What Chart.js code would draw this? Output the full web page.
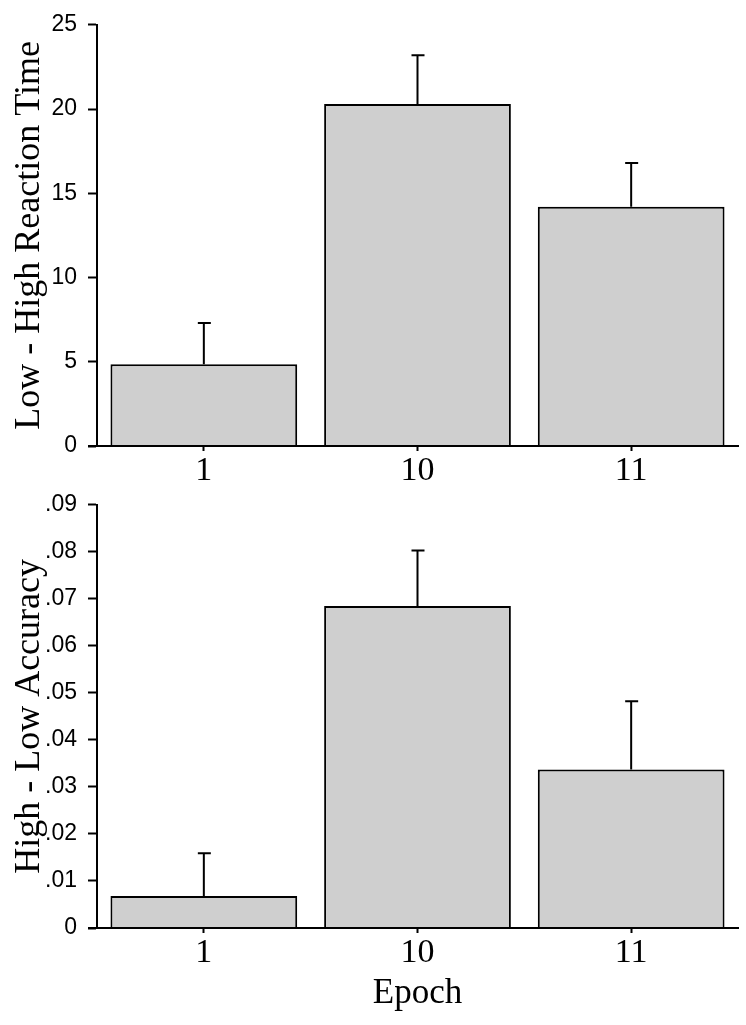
<!DOCTYPE html>
<html>
<head>
<meta charset="utf-8">
<script src="https://cdn.jsdelivr.net/npm/chart.js@4/dist/chart.umd.min.js"></script>
<style>
    body { margin: 0; background: #fff; }
    canvas { position: absolute; left: 0; }
    #rtChart { top: 0; }
    #accChart { top: 480px; }
</style>
</head>
<body>
<canvas id="rtChart" width="746" height="480"></canvas>
<canvas id="accChart" width="746" height="545"></canvas>
<script>
// Data
const epochs = ['1', '10', '11'];
const rtDiff = [4.85, 20.3, 14.2];      // Low - High reaction time
const rtSE = [2.45, 2.9, 2.6];
const accDiff = [0.0068, 0.0685, 0.0337]; // High - Low accuracy
const accSE = [0.0091, 0.0118, 0.0145];

const serif = 'Liberation Serif';
const sans = 'Liberation Sans';

// Upward-only error bars drawn from the SE arrays
const errorBars = {
    id: 'errorBars',
    afterDatasetsDraw(chart, args, opts) {
        const ctx = chart.ctx;
        const yScale = chart.scales.y;
        const meta = chart.getDatasetMeta(0);
        const values = chart.data.datasets[0].data;
        ctx.save();
        ctx.strokeStyle = '#000';
        ctx.lineWidth = 2;
        meta.data.forEach((bar, i) => {
            const yTop = yScale.getPixelForValue(values[i] + opts.err[i]);
            ctx.beginPath();
            ctx.moveTo(bar.x, bar.y);
            ctx.lineTo(bar.x, yTop);
            ctx.moveTo(bar.x - 6, yTop);
            ctx.lineTo(bar.x + 7, yTop);
            ctx.stroke();
        });
        ctx.restore();
    }
};

// x axis line runs a little past the y axis, to the tick marks
const baseLine = {
    id: 'baseLine',
    afterDraw(chart) {
        const ctx = chart.ctx;
        const area = chart.chartArea;
        ctx.save();
        ctx.strokeStyle = '#000';
        ctx.lineWidth = 2;
        ctx.beginPath();
        ctx.moveTo(area.left - 9, area.bottom);
        ctx.lineTo(area.right, area.bottom);
        ctx.stroke();
        ctx.restore();
    }
};

function makeChart(id, values, err, yOpts, xTitle, xHeight, padTop) {
    const ctx = document.getElementById(id).getContext('2d');
    return new Chart(ctx, {
        type: 'bar',
        data: {
            labels: epochs,
            datasets: [{
                data: values,
                backgroundColor: '#cfcfcf',
                borderColor: '#000',
                borderWidth: 2,
                borderSkipped: 'bottom',
                categoryPercentage: 1.0,
                barPercentage: 0.874
            }]
        },
        options: {
            responsive: false,
            animation: false,
            devicePixelRatio: 1,
            layout: { padding: { top: padTop, right: 8, left: 0, bottom: 0 } },
            plugins: {
                legend: { display: false },
                tooltip: { enabled: false },
                errorBars: { err: err }
            },
            scales: {
                x: {
                    offset: true,
                    grid: {
                        offset: false,
                        drawOnChartArea: false,
                        drawTicks: true,
                        tickLength: 5,
                        tickColor: '#000',
                        tickWidth: 2
                    },
                    border: { display: true, color: '#000', width: 2 },
                    ticks: {
                        color: '#000',
                        padding: 0,
                        font: { family: serif, size: 34 }
                    },
                    title: xTitle ? {
                        display: true,
                        text: xTitle,
                        color: '#000',
                        padding: { top: 0, bottom: 10 },
                        font: { family: serif, size: 35 }
                    } : { display: false },
                    afterFit(scale) { scale.height = xHeight; }
                },
                y: {
                    min: yOpts.min,
                    max: yOpts.max,
                    grid: {
                        drawOnChartArea: false,
                        drawTicks: true,
                        tickLength: 9,
                        tickColor: '#000',
                        tickWidth: 2
                    },
                    border: { display: true, color: '#000', width: 2 },
                    ticks: {
                        stepSize: yOpts.step,
                        color: '#000',
                        padding: 11,
                        font: { family: sans, size: 23 },
                        callback: yOpts.format
                    },
                    title: {
                        display: true,
                        text: yOpts.title,
                        color: '#000',
                        padding: { top: 8, bottom: 0 },
                        font: { family: serif, size: 36 }
                    },
                    afterFit(scale) { scale.width = 97; }
                }
            }
        },
        plugins: [errorBars, baseLine]
    });
}

const rtChart = makeChart('rtChart', rtDiff, rtSE, {
    min: 0, max: 25, step: 5,
    title: 'Low - High Reaction Time',
    format: v => String(v)
}, null, 34, 20);

const accChart = makeChart('accChart', accDiff, accSE, {
    min: 0, max: 0.09, step: 0.005,
    title: 'High - Low Accuracy',
    format: v => {
        const k = Math.round(v * 1000);
        if (k % 10 !== 0) return '';
        if (k === 0) return '0';
        return (k / 1000).toFixed(2).replace(/^0/, '');
    }
}, 'Epoch', 97, 22);
</script>
</body>
</html>
